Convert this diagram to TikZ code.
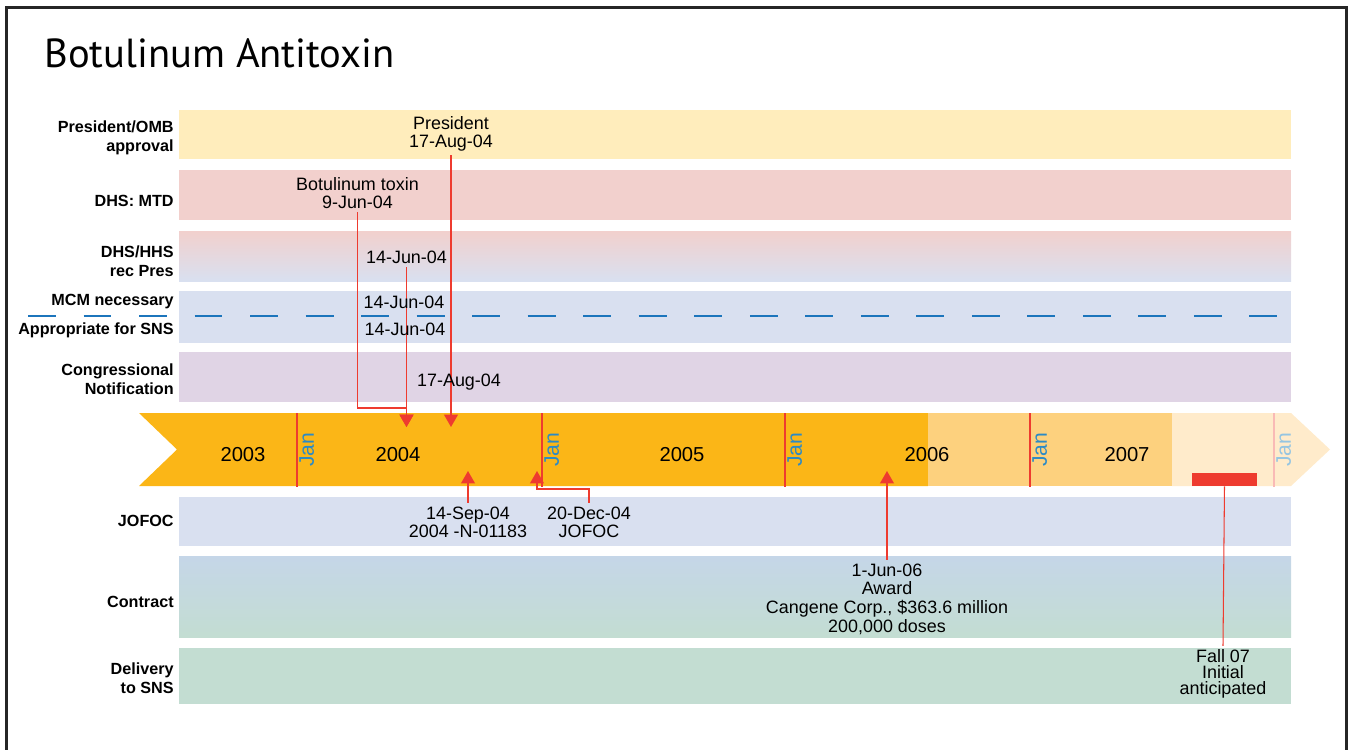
\documentclass[tikz,border=0pt]{standalone}
\usepackage{fontspec}
\setmainfont{Liberation Sans}
\newfontfamily\titlefont{PT Sans}
\usetikzlibrary{positioning,arrows.meta}

\definecolor{bandyellow}{HTML}{FFEDBC}
\definecolor{bandpink}{HTML}{F2D0CD}
\definecolor{bandblue}{HTML}{D9E0F0}
\definecolor{bandpurple}{HTML}{E0D4E5}
\definecolor{bandsteel}{HTML}{C5D6E8}
\definecolor{bandgreen}{HTML}{C3DDD2}
\definecolor{tlorange}{HTML}{FBB617}
\definecolor{tllight}{HTML}{FDD17E}
\definecolor{tlpale}{HTML}{FFEBCB}
\definecolor{tlred}{HTML}{EE3B2F}
\definecolor{janblue}{HTML}{2B8AC6}
\definecolor{dashblue}{HTML}{1C75BC}

\pgfdeclarelayer{bg}
\pgfdeclarelayer{wires}
\pgfsetlayers{bg,wires,main}

\begin{document}
\begin{tikzpicture}[
    x=0.02cm, y=-0.02cm,
    lbl/.style={anchor=east, align=right, inner sep=0pt, font=\fontsize{9.2}{10.8}\selectfont\bfseries},
    evt/.style={align=center, inner sep=2pt, font=\fontsize{10.2}{10.3}\selectfont},
    yr/.style={inner sep=0pt, font=\fontsize{11.5}{12}\selectfont},
    jan/.style={rotate=90, anchor=north, inner sep=0pt, text=janblue, font=\fontsize{12}{12}\selectfont},
    janline/.style={draw=tlred, line width=1.2pt},
    ev/.style={draw=tlred, line width=0.9pt, -{Triangle[length=7pt,width=7.8pt]}}
  ]
    \useasboundingbox (0,0) rectangle (1350,750);

    \node[anchor=base west, inner sep=0pt, font=\titlefont\fontsize{23.1}{28}\selectfont] (title) at (44,68) {Botulinum Antitoxin};

    % bands and timeline
    \begin{pgfonlayer}{bg}
      \fill[bandyellow] (179,110) rectangle (1291,159);
      \fill[bandpink] (179,170) rectangle (1291,220);
      \shade[top color=bandpink, bottom color=bandblue] (179,231) rectangle (1291,281);
      \fill[bandblue] (179,291) rectangle (1291,343);
      \fill[bandpurple] (179,352) rectangle (1291,402);
      \fill[bandblue] (179,497) rectangle (1291,546);
      \shade[top color=bandsteel, bottom color=bandgreen] (179,556) rectangle (1291,637);
      \fill[bandgreen] (179,648) rectangle (1291,704);
      \draw[dashblue, line width=0.8pt, dash pattern=on 15.9pt off 15.7pt] (28,316) -- (1282,316);

      \fill[tlorange] (139,413) -- (928,413) -- (928,486) -- (139,486) -- (177,449.5) -- cycle;
      \fill[tllight] (928,413) rectangle (1172,486);
      \fill[tlpale] (1172,413) -- (1291,413) -- (1330,449.5) -- (1291,486) -- (1172,486) -- cycle;
      \foreach \x in {297,542,785,1030}
        \draw[janline] (\x,413) -- (\x,487);
      \draw[janline, draw=tlred!35] (1274,413) -- (1274,487);
    \end{pgfonlayer}

    \foreach \x [count=\i] in {297,542,785,1030}
      \node[jan] (jan\i) at (\x+2,450) {Jan};
    \node[jan, text=janblue!50] (jan5) at (1276,450) {Jan};
    \foreach \yr/\x in {2003/243,2004/398,2005/682,2006/927,2007/1127}
      \node[yr] (y\yr) at (\x,455) {\yr};

    % row labels
    \node[lbl] (l-omb) at (174,138) {President/OMB\\approval};
    \node[lbl] (l-mtd) at (174,201) {DHS: MTD};
    \node[lbl] (l-rec) at (174,261) {DHS/HHS\\rec Pres};
    \node[lbl] (l-mcm) at (174,302) {MCM necessary};
    \node[lbl] (l-sns) at (174,330) {Appropriate for SNS};
    \node[lbl] (l-cong) at (174,379) {Congressional\\Notification};
    \node[lbl] (l-jofoc) at (174,521) {JOFOC};
    \node[lbl] (l-contr) at (174,602) {Contract};
    \node[lbl] (l-deliv) at (174,678) {Delivery\\to SNS};

    % events
    \node[evt] (pres) at (451,134) {President\\17-Aug-04};
    \node[evt] (botox) at (357.5,193) {Botulinum toxin\\9-Jun-04};
    \node[evt] (recpres) at (406.5,257) {14-Jun-04};
    \node[evt] (mcmnec) at (404,302) {14-Jun-04};
    \node[evt] (approp) at (405,329) {14-Jun-04};
    \node[evt] (congr) at (459,382) {17-Aug-04};
    \node[evt] (sep) at (468,522) {14-Sep-04\\2004 -N-01183};
    \node[evt] (dec) at (589,522) {20-Dec-04\\JOFOC};
    \node[evt, font=\fontsize{10.2}{10.6}\selectfont] (award) at (887,599) {1-Jun-06\\Award\\Cangene Corp., \$363.6 million\\200,000 doses};
    \node[evt, font=\fontsize{10.2}{9.1}\selectfont] (fall) at (1223,674) {Fall 07\\Initial\\anticipated};
    \node[fill=tlred, minimum width=65*0.02cm, minimum height=13*0.02cm, inner sep=0pt] (deliv) at (1224.5,479.5) {};

    \coordinate (t-aug) at (451,427);
    \coordinate (t-jun) at (406.5,427);
    \coordinate (k-jun) at (406.5,408);
    \coordinate (t-sep) at (468,471);
    \coordinate (t-dec) at (537,471);
    \coordinate (k-dec) at (537,489);
    \coordinate (t-award) at (887,471);

    \begin{pgfonlayer}{wires}
      \draw[ev] (pres.south) -- (t-aug);
      \draw[ev] (botox.south) |- (k-jun) -- (t-jun);
      \draw[ev] (recpres.south) -- (t-jun);
      \draw[ev] (sep.north) -- (t-sep);
      \draw[ev] (dec.north) |- (k-dec) -- (t-dec);
      \draw[ev] (award.north) -- (t-award);
      \draw[tlred, line width=0.6pt] (deliv.south) -- (fall.north);
    \end{pgfonlayer}

    \draw[black!85, line width=1.7pt] (6.5,750) -- (6.5,7.5) -- (1346.5,7.5) -- (1346.5,750);
  \end{tikzpicture}
\end{document}
